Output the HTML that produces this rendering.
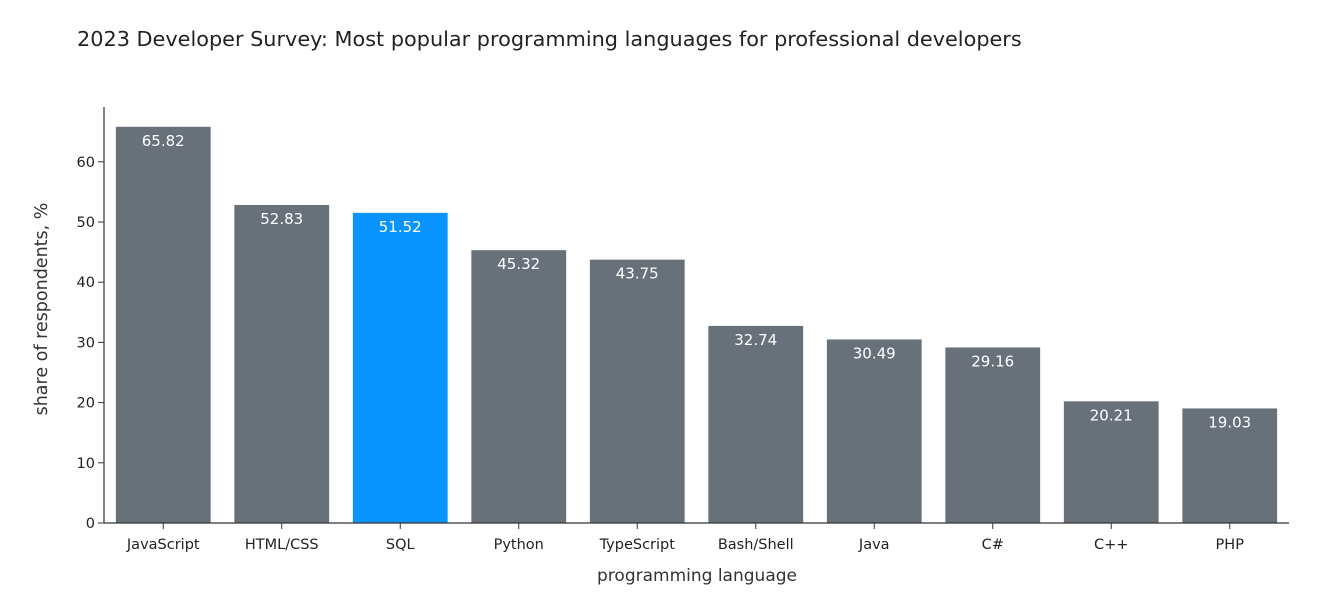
<!DOCTYPE html>
<html><head><meta charset="utf-8"><style>
body{margin:0;background:#fff;}
svg{display:block;font-family:"DejaVu Sans","Liberation Sans",sans-serif;}
</style></head><body>
<svg id="chart" width="1344" height="612">
<text x="77" y="46" font-size="20.8" fill="#222">2023 Developer Survey: Most popular programming languages for professional developers</text>
<g id="plot"></g>
<text transform="translate(47,309) rotate(-90)" text-anchor="middle" font-size="17.5" fill="#333">share of respondents, %</text>
<text x="697" y="581" text-anchor="middle" font-size="17" fill="#333">programming language</text>
</svg>
<script>
const categories=["JavaScript","HTML/CSS","SQL","Python","TypeScript","Bash/Shell","Java","C#","C++","PHP"];
const values=[65.82,52.83,51.52,45.32,43.75,32.74,30.49,29.16,20.21,19.03];
const highlight=["SQL"];
const yTicks=[0,10,20,30,40,50,60];
const NS="http://www.w3.org/2000/svg";
const g=document.getElementById('plot');
const x0=104,x1=1289,y0=523,yTop=107;
const yScale=v=>y0-v*6.02;
const band=(x1-x0)/categories.length;
const xScale=i=>x0+i*band;
function el(t,a){const e=document.createElementNS(NS,t);for(const k in a)e.setAttribute(k,a[k]);g.appendChild(e);return e;}
categories.forEach((c,i)=>{
  const bx=xScale(i)+band*0.1,bw=band*0.8,by=yScale(values[i]);
  const r=el('rect',{x:bx,y:by,width:bw,height:y0-by,fill:highlight.includes(c)?'#0893fe':'#68717a'});
  
  
  const t=el('text',{x:bx+bw/2,y:by+19,'text-anchor':'middle','font-size':15,fill:'#fff'});
  t.textContent=values[i].toFixed(2);
  
  
  const tk=el('line',{x1:bx+bw/2,x2:bx+bw/2,y1:y0,y2:y0+6,stroke:'#333'});
  
  
  const l=el('text',{x:bx+bw/2,y:y0+26,'text-anchor':'middle','font-size':14.5,fill:'#222'});
  l.textContent=c;
  
  
});
yTicks.forEach(v=>{
  const y=yScale(v);
  const tk=el('line',{x1:x0-6,x2:x0,y1:y,y2:y,stroke:'#333'});
  
  
  const l=el('text',{x:x0-9,y:y+5,'text-anchor':'end','font-size':14.5,fill:'#222'});
  l.textContent=v;
  
  
});
const ya=el('line',{x1:x0,x2:x0,y1:yTop,y2:y0,stroke:'#333','stroke-width':1.2});


const xa=el('line',{x1:x0,x2:x1,y1:y0,y2:y0,stroke:'#333','stroke-width':1.2});


</script>
</body></html>
